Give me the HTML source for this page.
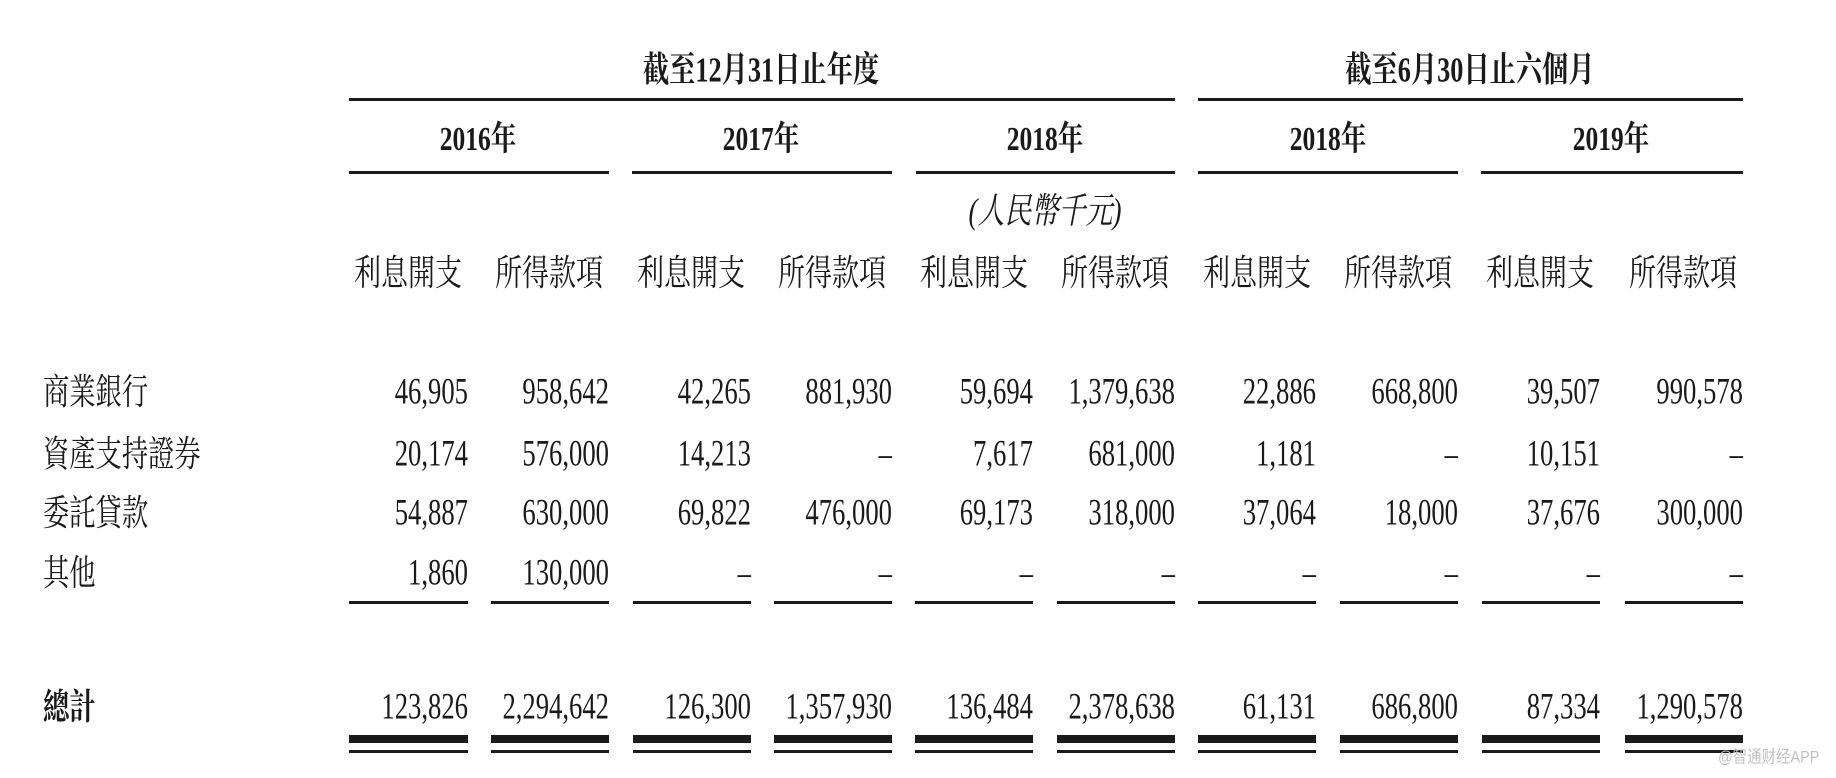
<!DOCTYPE html>
<html><head><meta charset="utf-8"><style>
html,body{margin:0;padding:0;background:#fff;}
body{width:1836px;height:778px;position:relative;overflow:hidden;color:#1a1a1a;}
.t{position:absolute;white-space:nowrap;line-height:1;}
.n{font-family:"Liberation Serif",serif;font-size:37px;transform:translate(-100%,-50%) scaleX(0.72);transform-origin:right center;}
.c{font-family:"Liberation Serif","Noto Serif CJK SC",serif;font-size:36px;transform:translate(-50%,-50%) scaleX(0.75);}
.l{font-family:"Liberation Serif","Noto Serif CJK SC",serif;font-size:36px;transform:translateY(-50%) scaleX(0.73);transform-origin:left center;}
.b{font-weight:bold;}
.r{position:absolute;background:#1a1a1a;}
</style></head><body>
<div class="t c b" style="left:761px;top:70px;font-size:35px;">截至12月31日止年度</div>
<div class="t c b" style="left:1470px;top:70px;font-size:35px;">截至6月30日止六個月</div>
<div class="r" style="left:349px;top:98px;width:826px;height:3px;"></div>
<div class="r" style="left:1198px;top:98px;width:545px;height:3px;"></div>
<div class="t c b" style="left:478px;top:140px;font-size:34px;">2016年</div>
<div class="t c b" style="left:761px;top:140px;font-size:34px;">2017年</div>
<div class="t c b" style="left:1045px;top:140px;font-size:34px;">2018年</div>
<div class="t c b" style="left:1328px;top:140px;font-size:34px;">2018年</div>
<div class="t c b" style="left:1611px;top:140px;font-size:34px;">2019年</div>
<div class="r" style="left:349px;top:171px;width:260px;height:3px;"></div>
<div class="r" style="left:632px;top:171px;width:260px;height:3px;"></div>
<div class="r" style="left:916px;top:171px;width:259px;height:3px;"></div>
<div class="r" style="left:1198px;top:171px;width:260px;height:3px;"></div>
<div class="r" style="left:1481px;top:171px;width:262px;height:3px;"></div>
<div class="t c" style="left:1045px;top:211px;font-style:italic;">(人民幣千元)</div>
<div class="t c" style="left:408px;top:273px;">利息開支</div>
<div class="t c" style="left:549px;top:273px;">所得款項</div>
<div class="t c" style="left:691px;top:273px;">利息開支</div>
<div class="t c" style="left:832px;top:273px;">所得款項</div>
<div class="t c" style="left:974px;top:273px;">利息開支</div>
<div class="t c" style="left:1115px;top:273px;">所得款項</div>
<div class="t c" style="left:1257px;top:273px;">利息開支</div>
<div class="t c" style="left:1398px;top:273px;">所得款項</div>
<div class="t c" style="left:1540px;top:273px;">利息開支</div>
<div class="t c" style="left:1683px;top:273px;">所得款項</div>
<div class="t l" style="left:43px;top:392px;">商業銀行</div>
<div class="t l" style="left:43px;top:454px;">資產支持證券</div>
<div class="t l" style="left:43px;top:513px;">委託貸款</div>
<div class="t l" style="left:43px;top:573px;">其他</div>
<div class="t l b" style="left:43px;top:707px;">總計</div>

<div class="t n" style="left:468px;top:392px;">46,905</div>
<div class="t n" style="left:609px;top:392px;">958,642</div>
<div class="t n" style="left:751px;top:392px;">42,265</div>
<div class="t n" style="left:892px;top:392px;">881,930</div>
<div class="t n" style="left:1033px;top:392px;">59,694</div>
<div class="t n" style="left:1175px;top:392px;">1,379,638</div>
<div class="t n" style="left:1316px;top:392px;">22,886</div>
<div class="t n" style="left:1458px;top:392px;">668,800</div>
<div class="t n" style="left:1600px;top:392px;">39,507</div>
<div class="t n" style="left:1743px;top:392px;">990,578</div>

<div class="t n" style="left:468px;top:454px;">20,174</div>
<div class="t n" style="left:609px;top:454px;">576,000</div>
<div class="t n" style="left:751px;top:454px;">14,213</div>
<div class="t n" style="left:892px;top:454px;">–</div>
<div class="t n" style="left:1033px;top:454px;">7,617</div>
<div class="t n" style="left:1175px;top:454px;">681,000</div>
<div class="t n" style="left:1316px;top:454px;">1,181</div>
<div class="t n" style="left:1458px;top:454px;">–</div>
<div class="t n" style="left:1600px;top:454px;">10,151</div>
<div class="t n" style="left:1743px;top:454px;">–</div>

<div class="t n" style="left:468px;top:513px;">54,887</div>
<div class="t n" style="left:609px;top:513px;">630,000</div>
<div class="t n" style="left:751px;top:513px;">69,822</div>
<div class="t n" style="left:892px;top:513px;">476,000</div>
<div class="t n" style="left:1033px;top:513px;">69,173</div>
<div class="t n" style="left:1175px;top:513px;">318,000</div>
<div class="t n" style="left:1316px;top:513px;">37,064</div>
<div class="t n" style="left:1458px;top:513px;">18,000</div>
<div class="t n" style="left:1600px;top:513px;">37,676</div>
<div class="t n" style="left:1743px;top:513px;">300,000</div>

<div class="t n" style="left:468px;top:573px;">1,860</div>
<div class="t n" style="left:609px;top:573px;">130,000</div>
<div class="t n" style="left:751px;top:573px;">–</div>
<div class="t n" style="left:892px;top:573px;">–</div>
<div class="t n" style="left:1033px;top:573px;">–</div>
<div class="t n" style="left:1175px;top:573px;">–</div>
<div class="t n" style="left:1316px;top:573px;">–</div>
<div class="t n" style="left:1458px;top:573px;">–</div>
<div class="t n" style="left:1600px;top:573px;">–</div>
<div class="t n" style="left:1743px;top:573px;">–</div>

<div class="t n" style="left:468px;top:707px;">123,826</div>
<div class="t n" style="left:609px;top:707px;">2,294,642</div>
<div class="t n" style="left:751px;top:707px;">126,300</div>
<div class="t n" style="left:892px;top:707px;">1,357,930</div>
<div class="t n" style="left:1033px;top:707px;">136,484</div>
<div class="t n" style="left:1175px;top:707px;">2,378,638</div>
<div class="t n" style="left:1316px;top:707px;">61,131</div>
<div class="t n" style="left:1458px;top:707px;">686,800</div>
<div class="t n" style="left:1600px;top:707px;">87,334</div>
<div class="t n" style="left:1743px;top:707px;">1,290,578</div>

<div class="r" style="left:349px;top:601px;width:119px;height:3px;"></div>
<div class="r" style="left:491px;top:601px;width:118px;height:3px;"></div>
<div class="r" style="left:633px;top:601px;width:118px;height:3px;"></div>
<div class="r" style="left:774px;top:601px;width:118px;height:3px;"></div>
<div class="r" style="left:915px;top:601px;width:118px;height:3px;"></div>
<div class="r" style="left:1057px;top:601px;width:118px;height:3px;"></div>
<div class="r" style="left:1198px;top:601px;width:118px;height:3px;"></div>
<div class="r" style="left:1340px;top:601px;width:118px;height:3px;"></div>
<div class="r" style="left:1482px;top:601px;width:118px;height:3px;"></div>
<div class="r" style="left:1625px;top:601px;width:118px;height:3px;"></div>

<div class="r" style="left:349px;top:735px;width:119px;height:8px;"></div>
<div class="r" style="left:491px;top:735px;width:118px;height:8px;"></div>
<div class="r" style="left:633px;top:735px;width:118px;height:8px;"></div>
<div class="r" style="left:774px;top:735px;width:118px;height:8px;"></div>
<div class="r" style="left:915px;top:735px;width:118px;height:8px;"></div>
<div class="r" style="left:1057px;top:735px;width:118px;height:8px;"></div>
<div class="r" style="left:1198px;top:735px;width:118px;height:8px;"></div>
<div class="r" style="left:1340px;top:735px;width:118px;height:8px;"></div>
<div class="r" style="left:1482px;top:735px;width:118px;height:8px;"></div>
<div class="r" style="left:1625px;top:735px;width:118px;height:8px;"></div>

<div class="r" style="left:349px;top:750px;width:119px;height:3px;"></div>
<div class="r" style="left:491px;top:750px;width:118px;height:3px;"></div>
<div class="r" style="left:633px;top:750px;width:118px;height:3px;"></div>
<div class="r" style="left:774px;top:750px;width:118px;height:3px;"></div>
<div class="r" style="left:915px;top:750px;width:118px;height:3px;"></div>
<div class="r" style="left:1057px;top:750px;width:118px;height:3px;"></div>
<div class="r" style="left:1198px;top:750px;width:118px;height:3px;"></div>
<div class="r" style="left:1340px;top:750px;width:118px;height:3px;"></div>
<div class="r" style="left:1482px;top:750px;width:118px;height:3px;"></div>
<div class="r" style="left:1625px;top:750px;width:118px;height:3px;"></div>

<div class="t" style="left:1718px;top:757px;font-family:'Liberation Sans','Noto Sans CJK SC',sans-serif;font-size:17px;color:#c0c0c0;transform:translateY(-50%) scaleX(0.85);transform-origin:left center;">@智通财经APP</div>
</body></html>
